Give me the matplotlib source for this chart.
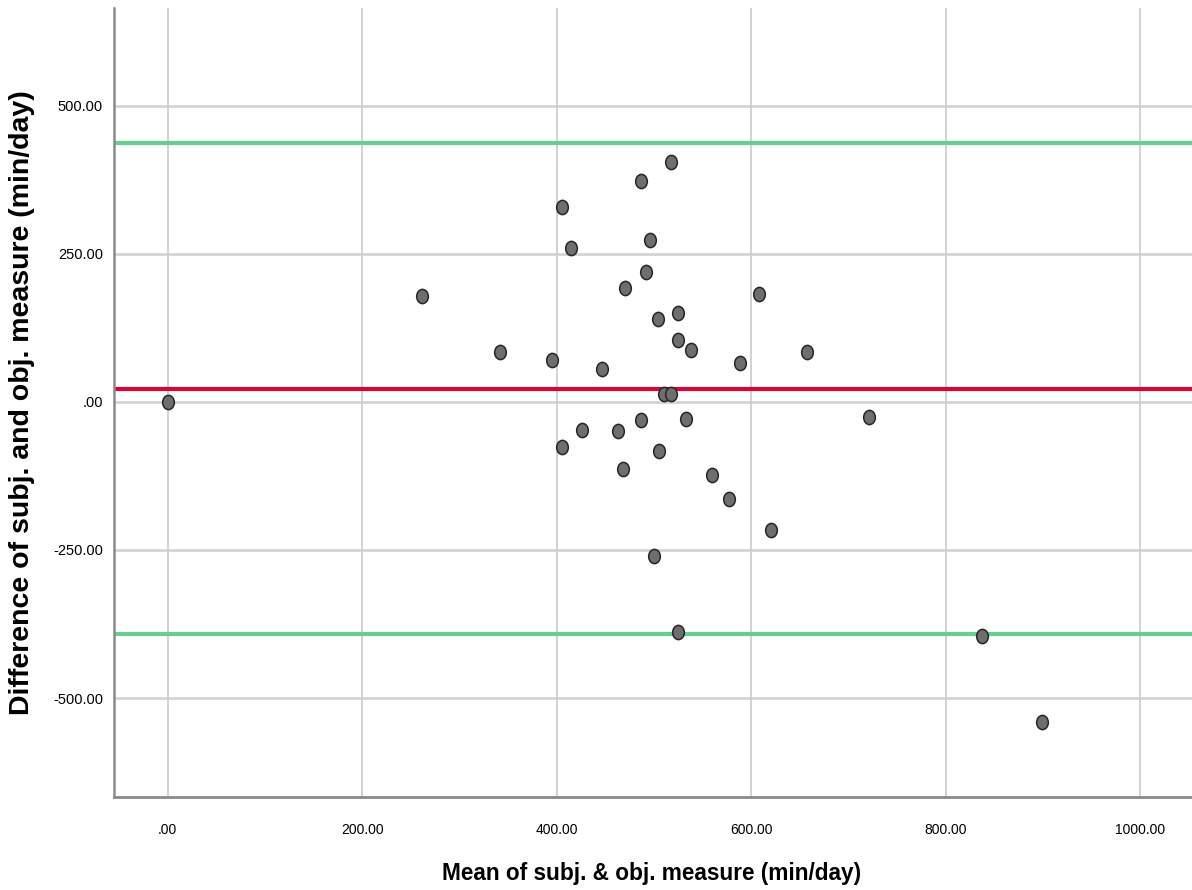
import numpy as np
import matplotlib
matplotlib.use("Agg")
import matplotlib.pyplot as plt
from matplotlib.path import Path
from matplotlib.transforms import Affine2D

# Data
mean_vals = [0, 262, 342, 395, 405, 405, 415, 426, 447, 463, 468, 470, 487, 487,
             492, 496, 500, 504, 505, 510, 517, 517, 525, 525, 525, 533, 538,
             560, 577, 588, 608, 620, 657, 721, 837, 899]
diff_vals = [0, 179, 84, 71, 329, -76, 260, -47, 56, -49, -113, 193, 373, -30,
             220, 274, -260, 140, -83, 14, 14, 405, 150, 105, -389, -29, 88,
             -123, -164, 66, 182, -216, 84, -25, -395, -541]
mean_diff = 22
upper_loa = 437
lower_loa = -392
x_ticks = [0, 200, 400, 600, 800, 1000]
x_tick_labels = [".00", "200.00", "400.00", "600.00", "800.00", "1000.00"]
y_ticks = [-500, -250, 0, 250, 500]
y_tick_labels = ["-500.00", "-250.00", ".00", "250.00", "500.00"]

arial = ["Liberation Sans", "DejaVu Sans"]

fig = plt.figure(figsize=(11.92, 8.90), dpi=100)
ax = fig.add_axes([114/1192, 93/890, 1078/1192, 789/890])

ax.set_xlim(-55, 1053)
ax.set_ylim(-667, 665)

# grid
for yt in y_ticks:
    ax.axhline(yt, color="#d4d4d4", lw=2.0, zorder=1)
for xt in x_ticks:
    ax.axvline(xt, color="#cfcfcf", lw=1.3, zorder=1)

# reference lines
ax.axhline(upper_loa, color="#66cf8f", lw=3.0, zorder=2)
ax.axhline(lower_loa, color="#66cf8f", lw=3.0, zorder=2)
ax.axhline(mean_diff, color="#d4063a", lw=3.0, zorder=2)

# elliptical marker
circ = Path.unit_circle()
ell = Affine2D().scale(0.82, 1.0).transform_path(circ)
ax.scatter(mean_vals, diff_vals, marker=ell, s=105, facecolor="#6e6e6e",
           edgecolor="#262626", linewidths=1.1, zorder=3)

ax.set_xticks(x_ticks)
ax.set_xticklabels(x_tick_labels, fontfamily=arial, fontsize=10)
ax.set_yticks(y_ticks)
ax.set_yticklabels(y_tick_labels, fontfamily=arial, fontsize=10.5)
ax.tick_params(axis="x", length=0, pad=19, colors="#000000")
ax.tick_params(axis="y", length=0, pad=8, colors="#000000")

for s in ["top", "right"]:
    ax.spines[s].set_visible(False)
ax.spines["left"].set_color("#8a8a8a")
ax.spines["left"].set_linewidth(1.8)
ax.spines["bottom"].set_color("#8a8a8a")
ax.spines["bottom"].set_linewidth(2.0)

ax.set_xlabel("Mean of subj. & obj. measure (min/day)", fontfamily=arial,
              fontweight="bold", fontsize=16.3)
ax.xaxis.set_label_coords(0.499, -0.097)
ax.xaxis.label.set_va("center")
ax.set_ylabel("Difference of subj. and obj. measure (min/day)", fontfamily=arial,
              fontweight="bold", fontsize=20.5)
ax.yaxis.set_label_coords(-0.085, 0.5)
ax.yaxis.label.set_va("center")

fig.savefig("out.png", dpi=100, facecolor="white")
